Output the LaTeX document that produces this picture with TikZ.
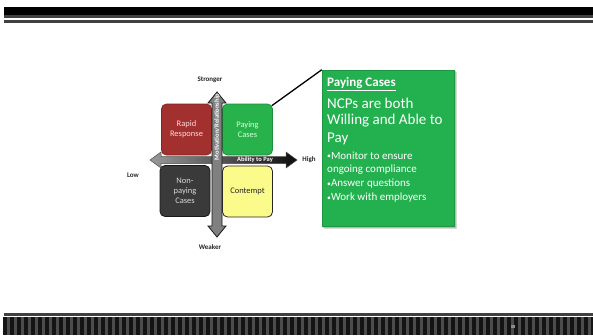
\documentclass[tikz,border=0pt]{standalone}
\usepackage{fontspec}
\setmainfont{Carlito}
\usetikzlibrary{calc}
\definecolor{qred}{HTML}{A2302E}
\definecolor{qgreen}{HTML}{27B24B}
\definecolor{qgray}{HTML}{3A3A3A}
\definecolor{qyellow}{HTML}{FBFB8C}
\definecolor{cgreen}{HTML}{23B04E}
\newcommand{\smbul}{\raisebox{0.15ex}{\scalebox{0.7}{•}}}
\begin{document}
\begin{tikzpicture}[x=1pt,y=-1pt,
 quad/.style={draw, line width=0.8pt, rounded corners=5pt, minimum width=50pt, minimum height=51pt, inner sep=0pt, align=center, font=\fontsize{8.5}{10}\selectfont},
 axlabel/.style={font=\bfseries\fontsize{7}{8}\selectfont, text=black!85, inner sep=0pt},
 ctext/.style={anchor=west, text=white, inner sep=0pt},
 big/.style={ctext, font=\fontsize{15}{16}\selectfont},
 small/.style={ctext, font=\fontsize{11}{12}\selectfont},
]
\useasboundingbox (0,0) rectangle (593,335);
\fill[white] (0,0) rectangle (593,335);
% top band
\fill[black] (4,7) rectangle (593,15);
\fill[black!75] (4,15) rectangle (593,17.5);
\fill[black!75] (4,19.5) rectangle (593,23);
% bottom band
\fill[black!75] (4,313) rectangle (593,316);
\fill[black!92] (3,317) rectangle (593,335);
\foreach \i in {0,...,84} { \fill[black!70] (6.5+7*\i,317) rectangle ++(3.5,18); }
\fill[black!45] (511,325) rectangle (515,328);
% quadrants
\node[quad, fill=qred, draw=qred!80!black, text=red!15] (rapid) at (186.5,129.5) {Rapid\\Response};
\node[quad, fill=qgreen, draw=qgreen!80!black, text=green!15] (pay) at (247.5,129.5) {Paying\\Cases};
\node[quad, fill=qgray, draw=black!90, text=black!15] (non) at (185,191) {Non-\\paying\\Cases};
\node[quad, fill=qyellow, draw=black!85, text=black!85] (cont) at (247.5,191.5) {Contempt};
% horizontal axis
\shade[left color=black!40, right color=black!95, draw=black!70, line width=0.5pt]
 (150,160) -- (161,152) -- (161,156.5) -- (286,156.5) -- (286,152) -- (297,160) -- (286,168) -- (286,163.5) -- (161,163.5) -- (161,168) -- cycle;
\node[font=\bfseries\fontsize{6.5}{7}\selectfont, text=white, inner sep=0pt] (ability) at (255,160) {Ability to Pay};
% vertical axis
\filldraw[fill=black!50, draw=black!90, line width=0.8pt]
 (217,92) -- (226,103) -- (222,103) -- (222,226) -- (226,226) -- (217,237) -- (208,226) -- (212,226) -- (212,103) -- (208,103) -- cycle;
\node[rotate=90, font=\bfseries\fontsize{6.5}{7}\selectfont, text=white, inner sep=0pt] (motiv) at (217,127) {Motivation/Relationship};
% axis labels
\node[axlabel] (strong) at (210,80) {Stronger};
\node[axlabel] (weak) at (210,247) {Weaker};
\node[axlabel] (high) at (309,160) {High};
\node[axlabel] (low) at (133,175) {Low};
% callout
\fill[black!30, opacity=0.5] (324,72) rectangle (457,229);
\fill[black!40, opacity=0.5] (323,71) rectangle (455.5,227.5);
\node[fill=cgreen, draw=cgreen!85!black, line width=0.5pt, minimum width=132pt, minimum height=156pt, inner sep=0pt] (call) at (388,148) {};
\draw[line width=1.3pt] ($(pay.north east)+(-1,2)$) -- (call.north west);
\node[ctext, font=\bfseries\fontsize{13}{15}\selectfont] (head) at (327,84) {\underline{Paying Cases}};
\node[big] (l1) at (327,103) {NCPs are both};
\node[big] (l2) at (327,121) {Willing and Able to};
\node[big] (l3) at (327,139) {Pay};
\node[small] (b1) at (327,155.5) {\smbul Monitor to ensure};
\node[small] (b2) at (327,170) {ongoing compliance};
\node[small] (b3) at (327,184) {\smbul Answer questions};
\node[small] (b4) at (327,198) {\smbul Work with employers};
\end{tikzpicture}
\end{document}
